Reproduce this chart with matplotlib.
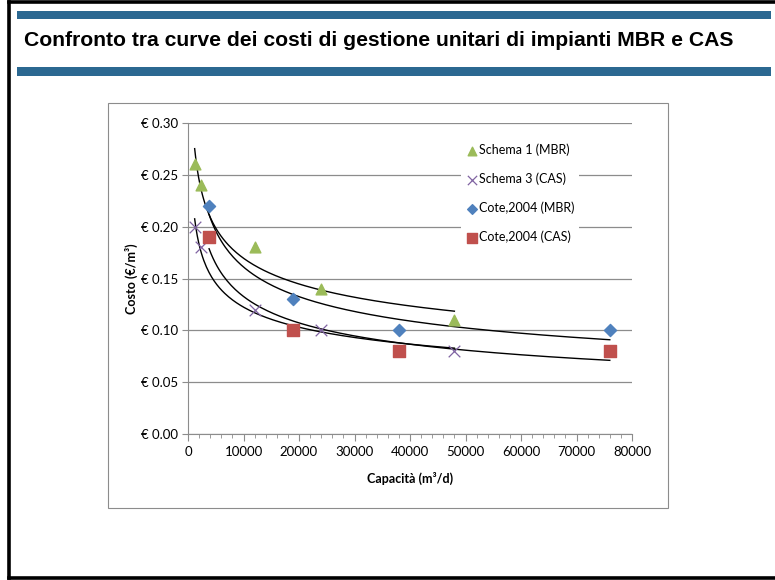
import numpy as np
import matplotlib.pyplot as plt
from matplotlib.lines import Line2D
from matplotlib.patches import Rectangle
from matplotlib.ticker import FuncFormatter, MultipleLocator

# data
schema1_x = [1200, 2400, 12000, 24000, 48000]
schema1_y = [0.26, 0.24, 0.18, 0.14, 0.11]
schema3_x = [1200, 2400, 12000, 24000, 48000]
schema3_y = [0.20, 0.18, 0.12, 0.10, 0.08]
cote_mbr_x = [3800, 19000, 38000, 76000]
cote_mbr_y = [0.22, 0.13, 0.10, 0.10]
cote_cas_x = [3800, 19000, 38000, 76000]
cote_cas_y = [0.19, 0.10, 0.08, 0.08]

title = "Confronto tra curve dei costi di gestione unitari di impianti MBR e CAS"

plt.rcParams['font.family'] = ['Lato', 'DejaVu Sans']

W, H = 775, 580
fig = plt.figure(figsize=(7.75, 5.8), dpi=100)

def px(x0, y0, x1, y1):
    # pixel box -> figure fraction (x, y, w, h)
    return (x0 / W, 1 - y1 / H), (x1 - x0) / W, (y1 - y0) / H

# slide frame (left, top, bottom)
for xs, ys in [([8.5, 8.5], [1.5, 578]), ([8.5, 775], [1.5, 1.5]), ([8.5, 775], [578, 578])]:
    fig.add_artist(Line2D([x / W for x in xs], [1 - y / H for y in ys],
                          transform=fig.transFigure, color='black', lw=2.6))

blue = '#2B6891'
for box in [(17, 11, 771, 19), (17, 67, 771, 76)]:
    xy, w, h = px(*box)
    fig.patches.append(Rectangle(xy, w, h, transform=fig.transFigure, color=blue, lw=0))
fig.text(24 / W, 1 - 41 / H, title, family='Liberation Sans', weight='bold',
         fontsize=15.2, va='center', ha='left')

# chart area border
xy, w, h = px(108, 103, 668, 508)
fig.patches.append(Rectangle(xy, w, h, transform=fig.transFigure,
                             fill=False, ec='#8c8c8c', lw=0.8))

xy, w, h = px(188, 123, 632, 434)
ax = fig.add_axes([xy[0], xy[1], w, h])

def power_fit(x, y):
    b, a = np.polyfit(np.log(x), np.log(y), 1)
    xs = np.linspace(min(x), max(x), 200)
    return xs, np.exp(a) * xs ** b

for xs, ys in [(schema1_x, schema1_y), (schema3_x, schema3_y),
               (cote_mbr_x, cote_mbr_y), (cote_cas_x, cote_cas_y)]:
    fx, fy = power_fit(xs, ys)
    ax.plot(fx, fy, color='black', lw=1.0, zorder=2)

ax.scatter(schema1_x, schema1_y, marker='^', s=60, color='#9BBB59', zorder=3, label='Schema 1 (MBR)')
ax.scatter(schema3_x, schema3_y, marker='x', s=70, color='#8064A2', lw=0.9, zorder=3, label='Schema 3 (CAS)')
ax.scatter(cote_mbr_x, cote_mbr_y, marker='D', s=38, color='#4F81BD', zorder=3, label='Cote,2004 (MBR)')
ax.scatter(cote_cas_x, cote_cas_y, marker='s', s=70, color='#C0504D', zorder=3, label='Cote,2004 (CAS)')

ax.set_xlim(0, 80000)
ax.set_ylim(0, 0.30)
ax.xaxis.set_major_locator(MultipleLocator(10000))
ax.xaxis.set_minor_locator(MultipleLocator(2000))
ax.yaxis.set_major_locator(MultipleLocator(0.05))
ax.yaxis.set_major_formatter(FuncFormatter(lambda v, p: f"€ {v:.2f}"))
ax.grid(axis='y', color='#8c8c8c', lw=0.9)
ax.set_axisbelow(True)
for s in ['top', 'right']:
    ax.spines[s].set_visible(False)
for s in ['left', 'bottom']:
    ax.spines[s].set_color('#8c8c8c')
ax.tick_params(axis='both', which='both', color='#8c8c8c', labelsize=9.5, direction='out')
ax.tick_params(axis='x', which='major', length=5)
ax.tick_params(axis='x', which='minor', length=3)
ax.tick_params(axis='y', length=4, pad=3)

ax.set_xlabel('Capacità (m³/d)', weight='bold', fontsize=9, labelpad=10)
ax.set_ylabel('Costo (€/m³)', weight='bold', fontsize=9, labelpad=2)

leg = ax.legend(loc='upper left', bbox_to_anchor=(0.6, 0.965), frameon=True, fontsize=9,
                handletextpad=0.0, labelspacing=1.3, borderpad=0.3, handlelength=1.2,
                markerscale=0.8)
leg.get_frame().set_edgecolor('none')
leg.get_frame().set_facecolor('white')
leg.get_frame().set_alpha(1)

fig.savefig('out.png', dpi=100)
